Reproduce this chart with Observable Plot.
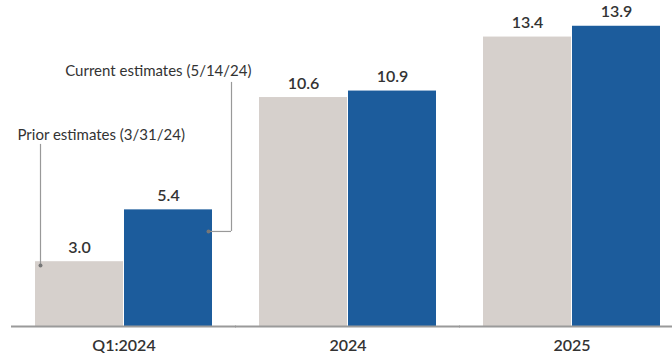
<!DOCTYPE html>
<html><head><meta charset="utf-8">
<script src="https://cdn.jsdelivr.net/npm/d3@7"></script>
<script src="https://cdn.jsdelivr.net/npm/@observablehq/plot@0.6"></script>
<style>
body{margin:0;background:#fff}
svg g[aria-label^="fx-axis"] text{font-weight:600;font-size:16px}
</style>
</head><body><div id="chart"></div>
<script>
const groups = ["Q1:2024", "2024", "2025"];
const seriesNames = ["Prior estimates (3/31/24)", "Current estimates (5/14/24)"];
const prior = [3.0, 10.6, 13.4];
const current = [5.4, 10.9, 13.9];
const seriesColors = ["#d6d0cc", "#1c5c9c"];

// annotation anchors (data units) in the first group
const annoGroup = "Q1:2024";
const annoDotY = [2.82, 4.4];
const annoTopY = [8.43, 11.3];
const annoLabelY = [8.84, 11.8];

const data = groups.flatMap((g, i) => [
  {group: g, series: seriesNames[0], value: prior[i]},
  {group: g, series: seriesNames[1], value: current[i]}
]);
const anno = seriesNames.map((s, i) => ({
  group: annoGroup, series: s, dotY: annoDotY[i], topY: annoTopY[i], labelY: annoLabelY[i]
}));
const annoPrior = [anno[0]];
const annoCurrent = [anno[1]];

const chart = Plot.plot({
  width: 672,
  height: 358,
  marginLeft: 24,
  marginRight: 1,
  marginTop: 2,
  marginBottom: 32,
  style: {fontFamily: "Lato, sans-serif", fontSize: "14px", color: "#333", background: "#fff"},
  fx: {domain: groups, paddingInner: 0.21, paddingOuter: 0.049, label: null, tickSize: 0, tickPadding: 13},
  x: {domain: seriesNames, paddingInner: 0.012, paddingOuter: 0, axis: null},
  y: {domain: [0, 15], axis: null},
  color: {domain: seriesNames, range: seriesColors},
  marks: [
    Plot.barY(data, {fx: "group", x: "series", y: "value", fill: "series"}),
    Plot.ruleY([0], {stroke: "#9a9a9a", strokeWidth: 2, insetLeft: -24, insetRight: -24}),
    Plot.text(data, {fx: "group", x: "series", y: "value", text: d => d.value.toFixed(1),
      dy: -14, fontSize: 16, fontWeight: 600, fill: "#333"}),
    // Prior annotation
    Plot.ruleX(annoPrior, {fx: "group", x: "series", y1: "dotY", y2: "topY", dx: -39, stroke: "#999", strokeWidth: 1.2}),
    Plot.dot(annoPrior, {fx: "group", x: "series", y: "dotY", dx: -39, r: 2, fill: "#777", stroke: "none"}),
    Plot.text(annoPrior, {fx: "group", x: "series", y: "labelY", text: "series", dx: -62,
      textAnchor: "start", fontSize: 15, fill: "#333"}),
    // Current annotation
    Plot.tickY(annoCurrent, {fx: "group", x: "series", y: "dotY", insetLeft: 84, insetRight: -19, stroke: "#999", strokeWidth: 1.2}),
    Plot.ruleX(annoCurrent, {fx: "group", x: "series", y1: "dotY", y2: "topY", dx: 63, stroke: "#999", strokeWidth: 1.2}),
    Plot.dot(annoCurrent, {fx: "group", x: "series", y: "dotY", dx: 40, r: 2, fill: "#777", stroke: "none"}),
    Plot.text(annoCurrent, {fx: "group", x: "series", y: "labelY", text: "series", dx: 83,
      textAnchor: "end", fontSize: 15, fill: "#333"})
  ]
});
document.getElementById("chart").appendChild(chart);
</script>
</body></html>
